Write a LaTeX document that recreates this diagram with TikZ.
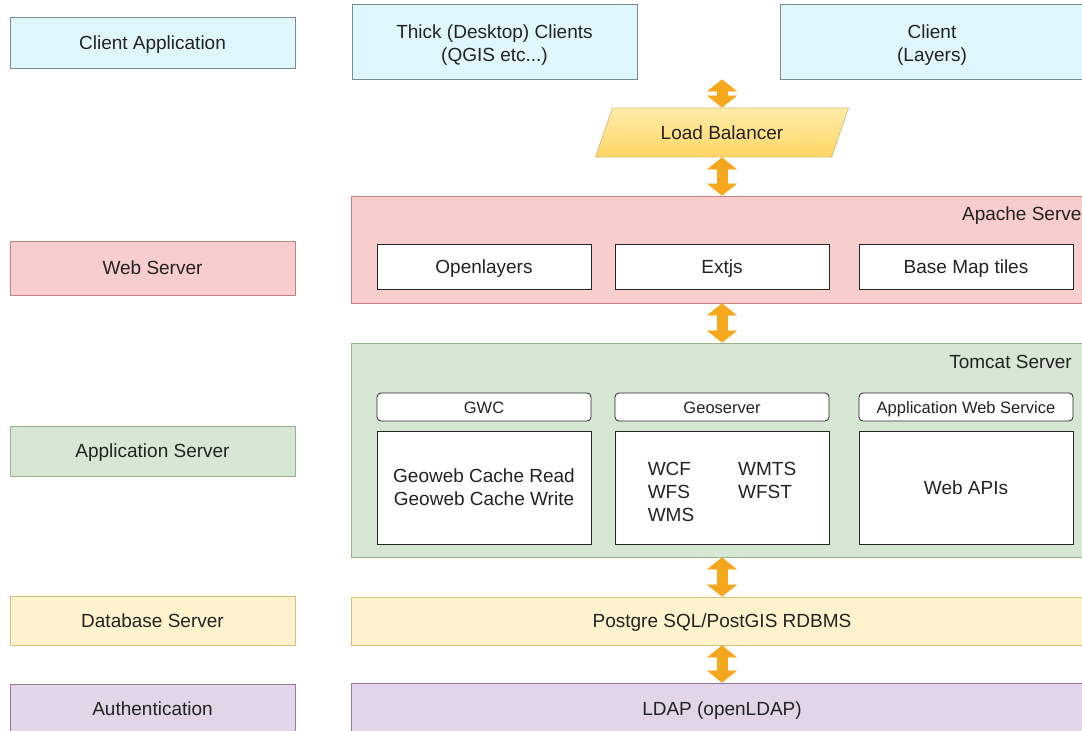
\documentclass[tikz,border=0pt]{standalone}
\usepackage{fontspec}
\setmainfont{Liberation Sans}
\usetikzlibrary{arrows.meta}
\usetikzlibrary{shapes.geometric}

\definecolor{txtc}{RGB}{35,35,35}
\definecolor{cyanf}{RGB}{222,246,252}
\definecolor{cyand}{RGB}{120,140,150}
\definecolor{pinkf}{RGB}{247,206,205}
\definecolor{pinkd}{RGB}{190,130,128}
\definecolor{greenf}{RGB}{214,232,212}
\definecolor{greend}{RGB}{150,180,140}
\definecolor{yellowf}{RGB}{255,242,205}
\definecolor{yellowd}{RGB}{214,190,120}
\definecolor{purplef}{RGB}{225,213,231}
\definecolor{purpled}{RGB}{150,120,165}
\definecolor{lbtop}{RGB}{255,236,170}
\definecolor{lbbot}{RGB}{255,214,100}
\definecolor{arrowc}{RGB}{245,168,28}

\newcommand{\twolines}[3][4pt]{\raisebox{-#1}[\height][\depth]{\begin{tabular}{@{}c@{}}#2\\#3\end{tabular}}}

\begin{document}
\begin{tikzpicture}[x=1pt, y=-1pt,
    box/.style={draw, inner sep=0pt, align=center, text=txtc, line width=0.8pt,
      font=\fontsize{19}{23}\selectfont,
      execute at begin node={\rule{0pt}{18.5pt}},
      execute at end node={\rule[-5pt]{0pt}{5pt}}},
    lefthead/.style={box, minimum width=285pt},
    wide/.style={box, minimum width=742pt},
    inbox/.style={box, fill=white, draw=black!85, minimum width=214pt},
    tagbox/.style={inbox, rounded corners=4pt, minimum height=28pt,
      font=\fontsize{16.5}{20}\selectfont,
      execute at begin node={\rule{0pt}{16pt}},
      execute at end node={\rule[-4.5pt]{0pt}{4.5pt}}},
    dblarrow/.style={draw=arrowc, line width=11pt,
      arrows={Triangle[width=30pt,length=12pt,line width=0.1pt]-Triangle[width=30pt,length=12pt,line width=0.1pt]}}]
  \useasboundingbox (0,0) rectangle (1082,731);
  \clip (0,0) rectangle (1082,731);

  \node[lefthead, fill=cyanf, draw=cyand, minimum height=51pt] (capp) at (152.5,42.5) {Client Application};
  \node[lefthead, fill=pinkf, draw=pinkd, minimum height=54pt] (web) at (152.5,268) {Web Server};
  \node[lefthead, fill=greenf, draw=greend, minimum height=50pt] (appsrv) at (152.5,451) {Application Server};
  \node[lefthead, fill=yellowf, draw=yellowd, minimum height=49pt] (dbsrv) at (152.5,620.5) {Database Server};
  \node[lefthead, fill=purplef, draw=purpled, minimum height=50pt] (auth) at (152.5,709) {Authentication};

  \node[box, fill=cyanf, draw=cyand, minimum width=285pt, minimum height=75pt] (thick) at (494.5,41.5)
    {\twolines{Thick (Desktop) Clients}{(QGIS etc...)}};
  \node[box, fill=cyanf, draw=cyand, minimum width=304pt, minimum height=75pt] (layers) at (932,41.5)
    {\twolines{Client}{(Layers)}};

  \node[box, trapezium, trapezium left angle=68, trapezium right angle=112, trapezium stretches=true,
    minimum width=253pt, minimum height=49pt, top color=lbtop, bottom color=lbbot, draw=yellowd]
    (lb) at (722,132.5) {Load Balancer};

  \node[wide, fill=pinkf, draw=pinkd, minimum height=107pt] (apache) at (722,249.5) {};
  \node[anchor=base east, inner sep=0pt, text=txtc, font=\fontsize{19}{23}\selectfont]
    (apachelbl) at (1088,220) {Apache Server};
  \node[inbox, minimum height=45pt] (openl) at (484,266.5) {Openlayers};
  \node[inbox, minimum height=45pt] (extjs) at (722,266.5) {Extjs};
  \node[inbox, minimum height=45pt] (tiles) at (966,266.5) {Base Map tiles};

  \node[wide, fill=greenf, draw=greend, minimum height=214pt] (tomcat) at (722,450) {};
  \node[anchor=base east, inner sep=0pt, text=txtc, font=\fontsize{19}{23}\selectfont]
    (tomcatlbl) at (1072,368) {Tomcat Server};
  \node[tagbox] (gwc) at (484,407) {GWC};
  \node[tagbox] (geo) at (722,407) {Geoserver};
  \node[tagbox] (aws) at (966,407) {Application Web Service};
  \node[inbox, minimum height=113pt] (cache) at (484,487.5)
    {\twolines[2pt]{Geoweb Cache Read}{Geoweb Cache Write}};
  \node[inbox, minimum height=113pt] (services) at (722,487.5)
    {\raisebox{-6pt}[\height][\depth]{\begin{tabular}{@{}l@{\hspace{44pt}}l@{}}WCF & WMTS\\ WFS & WFST\\ WMS & \end{tabular}}};
  \node[inbox, minimum height=113pt] (apis) at (966,487.5) {Web APIs};

  \node[wide, fill=yellowf, draw=yellowd, minimum height=48pt] (pg) at (722,621) {Postgre SQL/PostGIS RDBMS};
  \node[wide, fill=purplef, draw=purpled, minimum height=52pt] (ldap) at (722,709) {LDAP (openLDAP)};

  \draw[dblarrow] (lb.north |- thick.south) -- (lb.north);
  \draw[dblarrow] (lb.south) -- (lb.south |- apache.north);
  \draw[dblarrow] (apache.south) -- (tomcat.north);
  \draw[dblarrow] (tomcat.south) -- (pg.north);
  \draw[dblarrow] (pg.south) -- (ldap.north);
\end{tikzpicture}
\end{document}
